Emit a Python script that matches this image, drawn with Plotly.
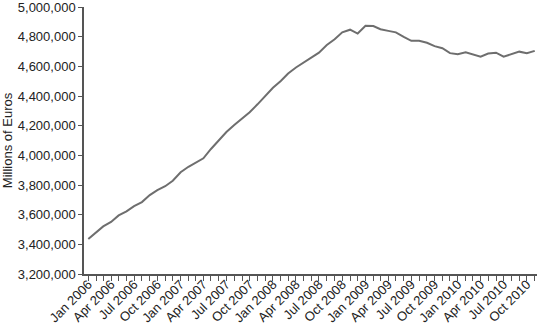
import plotly.graph_objects as go
import pandas as pd

months = pd.date_range("2006-01-01", "2010-11-01", freq="MS")
values = [
    3436000, 3481000, 3521000, 3551000, 3595000, 3622000, 3658000, 3685000,
    3732000, 3765000, 3792000, 3829000, 3886000, 3923000, 3949000, 3980000,
    4043000, 4100000, 4157000, 4204000, 4247000, 4291000, 4344000, 4401000,
    4455000, 4501000, 4552000, 4592000, 4625000, 4659000, 4692000, 4744000,
    4783000, 4829000, 4847000, 4821000, 4873000, 4872000, 4850000, 4839000,
    4829000, 4798000, 4772000, 4772000, 4759000, 4736000, 4722000, 4689000,
    4681000, 4694000, 4681000, 4665000, 4686000, 4692000, 4665000, 4682000,
    4699000, 4688000, 4704000,
]
y_ticks = [3200000, 3400000, 3600000, 3800000, 4000000, 4200000, 4400000,
           4600000, 4800000, 5000000]
y_title = "Millions of Euros"

fig = go.Figure()
fig.add_trace(go.Scatter(
    x=months, y=values, mode="lines",
    line=dict(color="#6e6e6e", width=2),
    hoverinfo="skip",
))

font = dict(family="Liberation Sans, Arial, sans-serif", size=13, color="#222222")
fig.update_layout(
    width=539, height=326,
    margin=dict(l=84, r=2, t=7, b=52, autoexpand=False),
    paper_bgcolor="white", plot_bgcolor="white",
    showlegend=False,
    font=font,
    xaxis=dict(
        range=["2005-12-15", "2010-11-10"],
        dtick="M3", tick0="2006-01-01", tickformat="%b %Y",
        tickangle=-45, ticks="outside", ticklen=5, tickcolor="#555555",
        showline=True, linecolor="#555555", linewidth=1.5,
        showgrid=False, zeroline=False, automargin=False,
        minor=dict(dtick="M1", ticks="outside", ticklen=5, tickcolor="#555555", showgrid=False),
        tickfont=font, ticklabeloverflow="allow", ticklabelstandoff=-9,
    ),
    yaxis=dict(
        range=[3200000, 5000000],
        tickvals=y_ticks, tickformat=",",
        ticks="outside", ticklen=4, tickcolor="#555555",
        showline=True, linecolor="#555555", linewidth=1.5,
        showgrid=False, zeroline=False, automargin=False,
        title=dict(text=y_title, font=font, standoff=2),
        tickfont=font, ticklabeloverflow="allow",
    ),
)
fig.write_html("out.html")
